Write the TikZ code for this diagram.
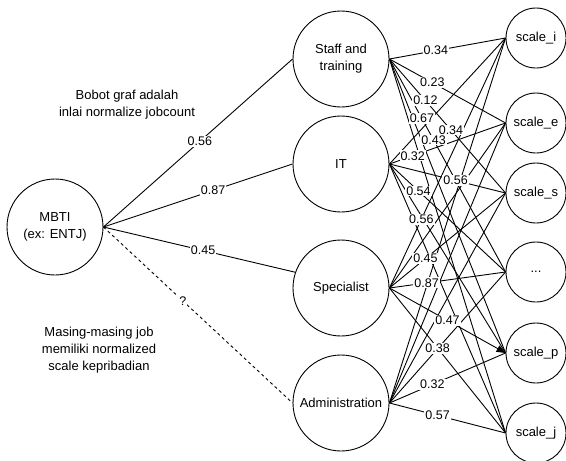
\documentclass[tikz,border=0pt]{standalone}
\usepackage{fontspec}
\setmainfont{Liberation Sans}
\usetikzlibrary{arrows.meta}
\begin{document}
\begin{tikzpicture}[x=1pt,y=1pt,line width=0.9pt,
    job/.style={draw,circle,minimum size=96pt,inner sep=0pt,align=center,font=\fontsize{13}{17}\selectfont},
    trait/.style={draw,circle,minimum size=60pt,inner sep=0pt,font=\fontsize{13}{17}\selectfont},
    w/.style={fill=white,inner sep=1pt,font=\fontsize{12.5}{14}\selectfont},
    note/.style={align=center,font=\fontsize{13}{17}\selectfont}]
    \useasboundingbox (0,0) rectangle (566,-461);
    \node [job] (mbti) at (55,-227) {MBTI\\(ex: ENTJ)};
    \node [job] (staff) at (341,-59) {Staff and\\training};
    \node [job] (it) at (341,-164) {IT};
    \node [job] (spec) at (341,-288) {Specialist};
    \node [job] (admin) at (341,-403) {Administration};
    \node [trait] (si) at (536,-38) {scale\_i};
    \node [trait] (se) at (536,-123) {scale\_e};
    \node [trait] (ss) at (536,-193) {scale\_s};
    \node [trait] (sd) at (536,-272) {...};
    \node [trait] (sp) at (536,-353) {scale\_p};
    \node [trait] (sj) at (536,-433) {scale\_j};
    \node [note] (bobot) at (127,-105) {Bobot graf adalah\\inlai normalize jobcount};
    \node [note] (masing) at (99,-350) {Masing-masing job\\memiliki normalized\\scale kepribadian};
    \draw (mbti.east) -- (staff.west);
    \draw (mbti.east) -- (it.west);
    \draw (mbti.east) -- (spec.161);
    \draw [dashed] (mbti.east) -- (admin.west);
    \draw (staff.east) -- (si.west);
    \draw (staff.east) -- (se.west);
    \draw (staff.east) -- (ss.west);
    \draw (staff.east) -- (sd.west);
    \draw (staff.east) -- (sp.west);
    \draw (staff.east) -- (sj.west);
    \draw (it.east) -- (si.west);
    \draw (it.east) -- (se.west);
    \draw (it.east) -- (ss.west);
    \draw (it.east) -- (sd.west);
    \draw (it.east) -- (sp.west);
    \draw (it.east) -- (sj.west);
    \draw (spec.east) -- (si.west);
    \draw (spec.east) -- (se.west);
    \draw (spec.east) -- (ss.west);
    \draw (spec.east) -- (sd.west);
    \draw [-{Triangle[length=9pt,width=7pt]}] (spec.east) -- (sp.west);
    \draw (spec.east) -- (sj.west);
    \draw (admin.east) -- (si.west);
    \draw (admin.east) -- (se.west);
    \draw (admin.east) -- (ss.west);
    \draw (admin.east) -- (sd.west);
    \draw (admin.east) -- (sp.west);
    \draw (admin.east) -- (sj.west);
    \path (mbti.east) -- node [w,pos=.51] {0.56} (staff.west);
    \path (mbti.east) -- node [w,pos=.58] {0.87} (it.west);
    \path (mbti.east) -- node [w,pos=.52] {0.45} (spec.161);
    \path (mbti.east) -- node [w,pos=.42] {?} (admin.west);
    \path (staff.east) -- node [w,pos=.40] {0.34} (si.west);
    \path (staff.east) -- node [w,pos=.37] {0.23} (se.west);
    \path (staff.east) -- node [w,pos=.31] {0.12} (ss.west);
    \path (staff.east) -- node [w,pos=.53] {0.34} (ss.west);
    \path (staff.east) -- node [w,pos=.28] {0.67} (sd.west);
    \path (staff.east) -- node [w,pos=.38] {0.43} (sd.west);
    \path (it.east) -- node [w,pos=.20] {0.32} (se.west);
    \path (it.east) -- node [w,pos=.57] {0.56} (ss.west);
    \path (it.east) -- node [w,pos=.25] {0.54} (sd.west);
    \path (spec.east) -- node [w,pos=.275] {0.56} (si.west);
    \path (spec.east) -- node [w,pos=.31] {0.45} (ss.west);
    \path (spec.east) -- node [w,pos=.32] {0.87} (sd.west);
    \path (spec.east) -- node [w,pos=.50] {0.47} (sp.west);
    \path (spec.east) -- node [w,pos=.415] {0.38} (sj.west);
    \path (admin.east) -- node [w,pos=.37] {0.32} (sp.west);
    \path (admin.east) -- node [w,pos=.415] {0.57} (sj.west);
\end{tikzpicture}
\end{document}
